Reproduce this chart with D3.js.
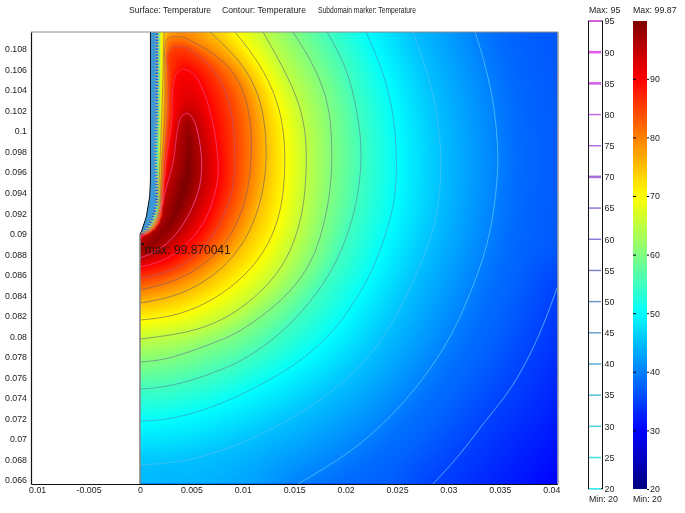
<!doctype html>
<html>

<head>
  <style>
    body { margin: 0; background: #fff; }
    canvas, svg { position: absolute; left: 0; top: 0; }
    text { font-family: "Liberation Sans", sans-serif; font-size: 8.8px; fill: #222; }
  </style>
  <script src="https://d3js.org/d3.v7.min.js"></script>
</head>

<body>
<canvas id="field" width="685" height="513"></canvas>
<svg width="685" height="513"></svg>
<script>
  // tick labels, the -0.01 label really has no minus in the original
  var xTicks = [-0.01, -0.005, 0, 0.005, 0.01, 0.015, 0.02, 0.025, 0.03, 0.035, 0.04];
  var xTickLabels = ["0.01", "-0.005", "0", "0.005", "0.01", "0.015", "0.02", "0.025", "0.03", "0.035", "0.04"];
  var yTicks = [0.066, 0.068, 0.07, 0.072, 0.074, 0.076, 0.078, 0.08, 0.082, 0.084, 0.086, 0.088, 0.09, 0.092, 0.094, 0.096, 0.098, 0.1, 0.102, 0.104, 0.106, 0.108];
  var yTickLabels = ["0.066", "0.068", "0.07", "0.072", "0.074", "0.076", "0.078", "0.08", "0.082", "0.084", "0.086", "0.088", "0.09", "0.092", "0.094", "0.096", "0.098", "0.1", "0.102", "0.104", "0.106", "0.108"];
  var contourTicks = [20, 25, 30, 35, 40, 45, 50, 55, 60, 65, 70, 75, 80, 85, 90, 95];
  var surfaceTicks = [20, 30, 40, 50, 60, 70, 80, 90];
  var titleParts = ["Surface: Temperature", "Contour: Temperature", "Subdomain marker: Temperature"];

  var surfaceMin = 20, surfaceMax = 99.87;
  var colorStops = [20, 30, 40, 50, 60, 70, 80, 90, 99.87];
  var colorValues = ["#000080", "#0000ff", "#0080ff", "#00ffff", "#80ff80", "#ffff00", "#ff8000", "#ff0000", "#800000"];

  // everything below is [x, y] in millimetres
  var axisLimits = { xMin: -10.6, xMax: 40.6, yMin: 65.61, yMax: 109.66 };
  var maxPoint = [0.26, 89.0];
  var wall = [[1.02, 109.66], [1.02, 95.24], [0.94, 93.58], [0.61, 91.63], [0.13, 90.17], [0, 89.97]];

  var contourLevels = [35, 40, 45, 50, 55, 60, 65, 70, 75, 80, 85, 90, 95];

  // outer part of each contour
  var arc35 = [[40.57, 84.71], [38.91, 80.13], [36.67, 75.75], [35.02, 73.5], [33.27, 71.36], [31.13, 68.44], [28.5, 65.61]];
  var arc40 = [[32.59, 109.66], [33.37, 107.22], [34.34, 103.32], [34.83, 98.84], [34.83, 95.24], [34.05, 89.68], [32.78, 85.78], [30.45, 80.13], [27.53, 75.75], [24.32, 72.04], [21.11, 69.22], [18.48, 67.46], [15.37, 65.61]];
  var arc45 = [[26.56, 109.66], [27.43, 107.22], [28.5, 104.01], [29.28, 99.13], [29.28, 95.24], [28.89, 91.34], [27.43, 87.15], [24.13, 80.13], [20.53, 76.04], [16.63, 73.11], [12.74, 70.87], [9.53, 69.41], [4.67, 67.75], [0, 67.46]];
  var arc50 = [[21.99, 109.66], [23.05, 107.22], [24.13, 104.3], [24.9, 100.11], [25, 95.24], [24.61, 92.31], [23.64, 89.1], [22.37, 85.78], [20.43, 82.76], [18.97, 80.62], [16.05, 77.89], [12.74, 75.75], [7.88, 73.31], [3.02, 71.85], [0, 71.75]];
  var arc55 = [[18.19, 109.66], [20.14, 106.25], [21.11, 102.06], [21.6, 98.45], [21.4, 94.94], [20.72, 91.34], [19.26, 87.44], [17.32, 84.22], [14.2, 80.62], [10.51, 77.89], [7.88, 76.72], [4.67, 75.55], [1.75, 74.97], [0, 74.87]];
  var arc60 = [[14.88, 109.66], [16.83, 106.64], [18.19, 103.32], [18.68, 100.11], [18.68, 95.24], [18.09, 91.63], [17.02, 87.73], [15.08, 84.81], [12.74, 82.57], [9.53, 80.33], [7.88, 79.64], [5.35, 78.67], [2.43, 77.69], [0, 77.5]];
  var arc65 = [[11.97, 109.66], [13.91, 106.25], [15.56, 102.74], [16.25, 99.13], [16.15, 95.24], [15.86, 92.02], [14.69, 88.12], [12.74, 85.2], [9.53, 82.37], [6.32, 80.81], [3.21, 80.13], [0, 79.74]];
  var arc70 = [[9.24, 109.66], [11.67, 106.64], [13.42, 103.03], [14.11, 99.43], [14.11, 95.24], [13.62, 91.63], [12.16, 88.12], [9.53, 85.2], [6.32, 83.05], [3.02, 81.88], [0, 81.59]];
  var arc75 = [[6.81, 109.66], [9.73, 106.93], [11.67, 103.71], [12.35, 99.43], [12.26, 95.24], [11.19, 91.04], [9.24, 87.73], [6.32, 85.2], [3.02, 83.74], [0, 83.25]];
  var arc80 = [[4.18, 109.17], [6.81, 107.9], [9.44, 105.66], [10.7, 102.06], [10.9, 98.45], [10.7, 95.24], [10.02, 92.31], [8.56, 89.1], [5.93, 86.66], [3.02, 85.2], [0, 84.52]];
  var arc85 = [[4.57, 108.1], [6.81, 106.64], [8.56, 103.71], [9.24, 100.11], [9.24, 95.24], [8.76, 93.29], [7.59, 90.36], [5.35, 87.63], [2.72, 86.17], [0, 85.68]];
  var arc90 = [[4.18, 106.05], [4.9, 105.9], [5.84, 104.98], [7.1, 101.37], [7.69, 96.89], [7.59, 95.24], [7.1, 92.99], [5.93, 90.36], [3.7, 88.12], [1.75, 87.15], [0, 86.76]];
  var arc95 = [[4.57, 101.76], [5.0, 101.55], [5.5, 100.6], [6.03, 97.87], [6.03, 95.24], [5.35, 92.99], [3.99, 90.36], [2.04, 88.41], [0, 87.63]];

  // the same contours coming back down along the wall
  var sideY = [109.66, 102.06, 97.18, 94.26, 92.8, 91.34, 90.46, 90.0];
  var sideX35 = [1.56, 1.54, 1.46, 1.56, 1.51, 1.07, 0.49, 0.08];
  var sideX40 = [1.6, 1.58, 1.5, 1.6, 1.55, 1.11, 0.53, 0.09];
  var sideX45 = [1.65, 1.63, 1.54, 1.63, 1.59, 1.15, 0.57, 0.1];
  var sideX50 = [1.7, 1.68, 1.58, 1.66, 1.63, 1.19, 0.61, 0.11];
  var sideX55 = [1.75, 1.73, 1.63, 1.69, 1.67, 1.23, 0.65, 0.12];
  var sideX60 = [1.8, 1.78, 1.68, 1.72, 1.71, 1.27, 0.69, 0.13];
  var sideX65 = [1.85, 1.83, 1.75, 1.75, 1.75, 1.31, 0.73, 0.14];
  var sideX70 = [1.95, 1.89, 1.8, 1.78, 1.79, 1.36, 0.77, 0.15];
  var sideX75 = [2.34, 2.14, 1.95, 1.85, 1.85, 1.5, 0.85, 0.18];
  var side80 = [[4.18, 109.17], [2.72, 109.07], [2.43, 108.1], [2.43, 105.95], [2.43, 102.06], [2.14, 97.18], [2, 94.26], [1.95, 92.8], [1.65, 91.34], [1, 90.46], [0.25, 90]];
  var side85 = [[4.57, 108.1], [3.21, 108.2], [2.63, 107.42], [2.72, 105.95], [2.72, 102.06], [2.33, 97.18], [2.14, 94.26], [2.04, 92.8], [1.75, 91.34], [1.15, 90.46], [0.35, 90]];
  var side90 = [[4.18, 106.05], [3.55, 105.6], [3.21, 104.3], [3.11, 101.37], [2.53, 96.89], [2.24, 94.26], [2.14, 92.8], [1.85, 91.34], [1.3, 90.46], [0.5, 90], [0.1, 89.83]];
  var side95 = [[4.57, 101.76], [4.05, 101.45], [3.7, 100.4], [3.21, 96.89], [2.63, 94.75], [2.24, 93.29], [1.85, 92.02], [1.36, 91.14], [0.78, 90.36], [0.29, 89.83], [0.1, 89.58]];

  function alongWall(xs) {
    return xs.map(function (v, i) { return [v, sideY[i]]; });
  }

  var arcs = [arc35, arc40, arc45, arc50, arc55, arc60, arc65, arc70, arc75, arc80, arc85, arc90, arc95];
  var sides = [sideX35, sideX40, sideX45, sideX50, sideX55, sideX60, sideX65, sideX70, sideX75].map(alongWall)
    .concat([side80, side85, side90, side95]);

  var svg = d3.select("svg");

  var xScale = d3.scaleLinear().domain([axisLimits.xMin / 1000, axisLimits.xMax / 1000]).range([31, 557.4]);
  var yScale = d3.scaleLinear().domain([axisLimits.yMin / 1000, axisLimits.yMax / 1000]).range([484, 32]);

  var color = d3.scaleLinear().domain(colorStops).range(colorValues).clamp(true);
  var lineColor = d3.scaleLinear().domain([20, 57, 95]).range(["#33eeee", "#8080cc", "#f055f0"]);
  var fieldLine = d3.scaleLinear()
    .domain([35, 45, 50, 60, 70, 80, 90, 95])
    .range(["#66c8f4", "#4cc0f0", "#3fa0b8", "#6a8a8a", "#7c7a50", "#90605a", "#e84880", "#f058b0"]);

  function px(p) { return [xScale(p[0] / 1000), yScale(p[1] / 1000)]; }

  var curve = d3.line().curve(d3.curveBasis);
  var sideCurve = d3.line().curve(d3.curveCatmullRom);

  // dense pixel version of a curve, for the field
  var sampler = svg.append("path").attr("fill", "none");
  function sample(points, gen) {
    sampler.attr("d", gen(points));
    var node = sampler.node(), len = node.getTotalLength(), out = [];
    for (var s = 0; s < len; s += 5) {
      var q = node.getPointAtLength(s);
      out.push([q.x, q.y]);
    }
    out.push(points[points.length - 1]);
    return out;
  }

  var arcsPx = arcs.map(function (a) { return a.map(px); });
  var sidesPx = sides.map(function (a) { return a.map(px); });
  var arcsDense = arcsPx.map(function (a) { return sample(a, curve); });
  var sidesDense = sidesPx.map(function (a) { return sample(a, sideCurve); });
  sampler.remove();

  // region hotter than each level, pushed past x=0 so the left edge is not cut short
  var regions = contourLevels.map(function (level, i) {
    var poly = [];
    var sideEnd = sides[i][sides[i].length - 1];
    if (level == 35) poly.push(px([axisLimits.xMax, axisLimits.yMax]));
    poly = poly.concat(arcsDense[i]);
    if (level <= 40) poly.push(px([-1, axisLimits.yMin]));
    else poly.push(px([-1, arcs[i][arcs[i].length - 1][1]]));
    poly.push(px([-1, sideEnd[1]]));
    return poly.concat(sidesDense[i].slice().reverse());
  });

  function segDist(p, a, b) {
    var dx = b[0] - a[0], dy = b[1] - a[1];
    var t = ((p[0] - a[0]) * dx + (p[1] - a[1]) * dy) / (dx * dx + dy * dy || 1);
    t = Math.max(0, Math.min(1, t));
    var ex = a[0] + t * dx - p[0], ey = a[1] + t * dy - p[1];
    return ex * ex + ey * ey;
  }
  function lineDist(p, line) {
    var best = Infinity;
    for (var i = 1; i < line.length; i++) {
      var d = segDist(p, line[i - 1], line[i]);
      if (d < best) best = d;
    }
    return best;
  }
  function contourDist(p, i) {
    return Math.sqrt(Math.min(lineDist(p, arcsDense[i]), lineDist(p, sidesDense[i])));
  }

  function tempAt(p) {
    var lo = -1, hi = contourLevels.length - 1;
    while (lo < hi) {
      var mid = Math.ceil((lo + hi) / 2);
      if (d3.polygonContains(regions[mid], p)) lo = mid; else hi = mid - 1;
    }
    if (lo < 0) return 35 - 5 * Math.min(1, contourDist(p, 0) / 95);
    if (lo == contourLevels.length - 1) return 95 + (surfaceMax - 95) * Math.min(1, contourDist(p, lo) / 14);
    var d0 = contourDist(p, lo), d1 = contourDist(p, lo + 1);
    // the 35-40 band is open towards the top right corner
    if (lo == 0) d0 = Math.min(d0, 45);
    return contourLevels[lo] + 5 * d0 / (d0 + d1);
  }

  // surface: worked out on a 2px grid, then scaled up
  var step = 2;
  var left = xScale(0), right = xScale(axisLimits.xMax / 1000), top_ = yScale(axisLimits.yMax / 1000), bottom = yScale(axisLimits.yMin / 1000);
  var gw = Math.ceil((right - left) / step) + 1, gh = Math.ceil((bottom - top_) / step) + 1;
  var small = document.createElement("canvas");
  small.width = gw;
  small.height = gh;
  var sctx = small.getContext("2d");
  var img = sctx.createImageData(gw, gh);
  for (var j = 0; j < gh; j++) {
    for (var i = 0; i < gw; i++) {
      var c = d3.rgb(color(tempAt([left + i * step + 0.01, top_ + j * step + 0.01])));
      var k = (j * gw + i) * 4;
      img.data[k] = c.r;
      img.data[k + 1] = c.g;
      img.data[k + 2] = c.b;
      img.data[k + 3] = 255;
    }
  }
  sctx.putImageData(img, 0, 0);

  var domainLine = wall.concat([[0, axisLimits.yMin], [axisLimits.xMax, axisLimits.yMin], [axisLimits.xMax, axisLimits.yMax]]).map(px);

  var ctx = document.getElementById("field").getContext("2d");
  ctx.save();
  ctx.beginPath();
  domainLine.forEach(function (p, i) { if (i) ctx.lineTo(p[0], p[1]); else ctx.moveTo(p[0], p[1]); });
  ctx.closePath();
  ctx.clip();
  ctx.imageSmoothingEnabled = true;
  ctx.drawImage(small, left, top_, gw * step, gh * step);
  ctx.restore();

  // blue strip against the wall
  svg.append("path")
    .attr("d", d3.line()(wall.map(px).concat(sidesPx[0].slice().reverse())) + "Z")
    .attr("fill", "#3f98d6");

  // contours
  svg.append("clipPath").attr("id", "domainClip")
    .append("path").attr("d", d3.line()(domainLine) + "Z");
  var contours = svg.append("g").attr("clip-path", "url(#domainClip)").attr("fill", "none");
  contours.selectAll(".arc")
    .data(contourLevels)
    .enter().append("path")
    .attr("class", "arc")
    .attr("d", function (d, i) { return curve(arcsPx[i]); })
    .attr("stroke", function (d) { return fieldLine(d); })
    .attr("stroke-width", 0.75);
  contours.selectAll(".side")
    .data(contourLevels)
    .enter().append("path")
    .attr("class", "side")
    .attr("d", function (d, i) { return sideCurve(sidesPx[i]); })
    .attr("stroke", function (d) { return d < 75 ? "#d8d060" : fieldLine(d); })
    .attr("stroke-width", 0.6)
    .attr("stroke-dasharray", function (d) { return d < 75 ? "1.5 1.5" : null; });

  // wall and frame
  svg.append("path")
    .attr("d", d3.line()(wall.map(px)))
    .attr("fill", "none").attr("stroke", "#111").attr("stroke-width", 1);
  svg.append("line")
    .attr("x1", xScale(0)).attr("x2", xScale(0))
    .attr("y1", yScale(0.08997)).attr("y2", 484)
    .attr("stroke", "#888").attr("stroke-width", 1.6);
  svg.append("line")
    .attr("x1", 31).attr("x2", 558).attr("y1", 32).attr("y2", 32)
    .attr("stroke", "#888").attr("stroke-width", 1);
  svg.append("line")
    .attr("x1", 558).attr("x2", 558).attr("y1", 32).attr("y2", 484)
    .attr("stroke", "#667").attr("stroke-width", 1);

  svg.append("g")
    .attr("transform", "translate(0,484)")
    .call(d3.axisBottom(xScale).tickValues(xTicks).tickSize(0).tickPadding(3)
      .tickFormat(function (d, i) { return xTickLabels[i]; }));
  svg.append("g")
    .attr("transform", "translate(31,0)")
    .call(d3.axisLeft(yScale).tickValues(yTicks).tickSize(0).tickPadding(4)
      .tickFormat(function (d, i) { return yTickLabels[i]; }));
  svg.selectAll(".domain").attr("stroke", "#111").attr("stroke-width", 1.2);

  // title
  svg.selectAll(".title")
    .data(titleParts)
    .enter().append("text")
    .attr("class", "title")
    .attr("x", function (d, i) { return [129, 222, 318][i]; })
    .attr("y", 13)
    .attr("textLength", function (d, i) { return [82, 84, 98][i]; })
    .attr("lengthAdjust", "spacingAndGlyphs")
    .text(function (d) { return d; });

  // max marker
  svg.append("circle")
    .attr("cx", px(maxPoint)[0]).attr("cy", px(maxPoint)[1]).attr("r", 1.3).attr("fill", "#111");
  svg.append("text")
    .attr("x", px(maxPoint)[0] + 2).attr("y", px(maxPoint)[1] + 10.5)
    .style("font-size", "12px")
    .style("fill", "#2a1510")
    .text("max: 99.870041");

  // contour legend
  var legendY = d3.scaleLinear().domain([20, 95]).range([488.7, 21]);
  svg.append("rect")
    .attr("x", 588.5).attr("y", 21).attr("width", 14).attr("height", 467.7)
    .attr("fill", "#fff").attr("stroke", "#111");
  svg.selectAll(".legendLine")
    .data(contourTicks)
    .enter().append("line")
    .attr("class", "legendLine")
    .attr("x1", 589).attr("x2", 601)
    .attr("y1", function (d) { return legendY(d); })
    .attr("y2", function (d) { return legendY(d); })
    .attr("stroke", function (d) { return lineColor(d); })
    .attr("stroke-width", function (d) { return [90, 85, 70].indexOf(d) >= 0 ? 2.6 : 1.5; });
  svg.append("g")
    .attr("transform", "translate(602.5,0)")
    .call(d3.axisRight(legendY).tickValues(contourTicks).tickSize(0).tickPadding(2))
    .call(function (g) { g.select(".domain").remove(); });
  svg.append("text").attr("x", 589).attr("y", 13).text("Max: 95");
  svg.append("text").attr("x", 589).attr("y", 502).text("Min: 20");

  // surface colour bar
  var barY = d3.scaleLinear().domain([surfaceMin, surfaceMax]).range([489, 21]);
  var gradient = svg.append("linearGradient")
    .attr("id", "jet").attr("x1", 0).attr("x2", 0).attr("y1", 1).attr("y2", 0);
  gradient.selectAll("stop")
    .data(colorStops)
    .enter().append("stop")
    .attr("offset", function (d) { return (d - surfaceMin) / (surfaceMax - surfaceMin); })
    .attr("stop-color", function (d, i) { return colorValues[i]; });
  svg.append("rect")
    .attr("x", 633).attr("y", 21).attr("width", 14).attr("height", 468)
    .attr("fill", "url(#jet)");
  svg.append("g")
    .attr("transform", "translate(647,0)")
    .call(d3.axisRight(barY).tickValues(surfaceTicks).tickSize(2).tickPadding(1))
    .call(function (g) { g.select(".domain").remove(); });
  svg.append("g")
    .attr("transform", "translate(633,0)")
    .call(d3.axisLeft(barY).tickValues(surfaceTicks.slice(1)).tickSize(-3).tickFormat(""))
    .call(function (g) { g.select(".domain").remove(); });
  svg.append("text").attr("x", 633).attr("y", 13).text("Max: 99.87");
  svg.append("text").attr("x", 633).attr("y", 502).text("Min: 20");

  // let the css font apply to the axis text
  svg.selectAll("g").attr("font-family", null).attr("font-size", null);
</script>
</body>

</html>
